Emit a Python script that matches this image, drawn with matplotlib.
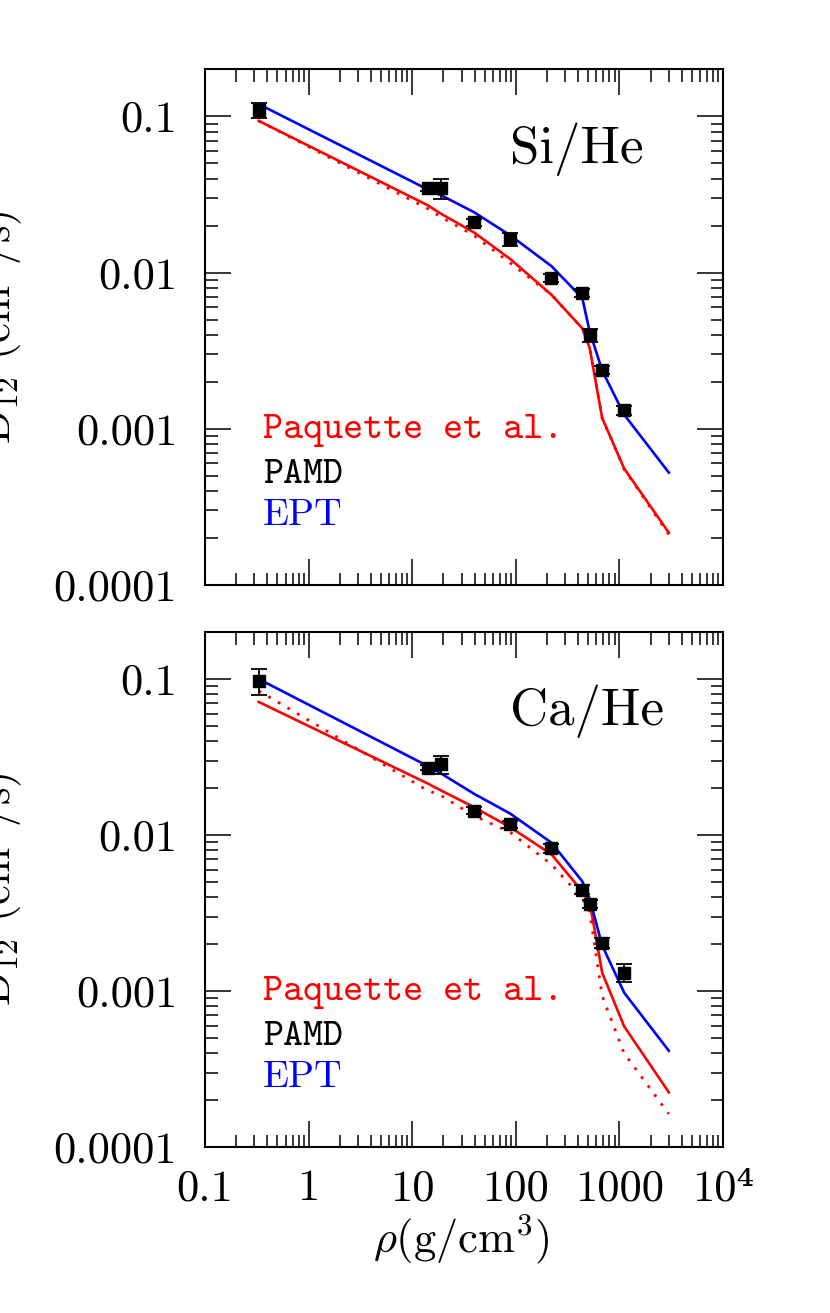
import matplotlib
matplotlib.use('Agg')
import matplotlib.pyplot as plt
from matplotlib.ticker import FixedLocator, FixedFormatter, LogLocator, NullFormatter

plt.rcParams['font.family'] = ['cmr10', 'DejaVu Serif']
plt.rcParams['mathtext.fontset'] = 'cm'

# densities (g/cm^3)
rho = [0.33, 14.1, 19.0, 39.4, 88.7, 221, 438, 516, 682, 1112]
rho_model = [0.33, 14.1, 19.0, 39.4, 88.7, 221, 438, 516, 682, 1112, 3000]

# Si/He
si_pamd = [0.110, 0.0346, 0.0346, 0.0210, 0.0164, 0.00926, 0.0074, 0.00397, 0.00239, 0.00131]
si_err = [0.012, 0.0012, 0.005, 0.0012, 0.0016, 0.0005, 0.0004, 0.0004, 0.00015, 0.00008]
si_ept = [0.120, 0.0341, 0.0313, 0.0244, 0.0173, 0.0110, 0.00687, 0.0042, 0.00236, 0.00123, 0.000524]
si_paq = [0.0937, 0.0270, 0.0238, 0.0181, 0.0122, 0.00721, 0.0044, 0.0033, 0.00117, 0.000556, 0.000216]
si_paq_dot = [0.0937, 0.0257, 0.0227, 0.0173, 0.0115, 0.00721, 0.0044, 0.0033, 0.00117, 0.000550, 0.000210]

# Ca/He
ca_pamd = [0.0975, 0.0270, 0.0285, 0.01436, 0.01175, 0.00822, 0.00446, 0.00361, 0.00203, 0.00131]
ca_err = [0.019, 0.001, 0.0037, 0.0007, 0.0006, 0.0005, 0.0003, 0.0002, 0.00015, 0.00017]
ca_ept = [0.100, 0.0277, 0.0248, 0.0184, 0.0137, 0.00893, 0.00505, 0.0039, 0.00196, 0.000975, 0.000414]
ca_paq = [0.0713, 0.0214, 0.0193, 0.0151, 0.0112, 0.00752, 0.00435, 0.00374, 0.00131, 0.000593, 0.000224]
ca_paq_dot = [0.0840, 0.0193, 0.0179, 0.0133, 0.0104, 0.00647, 0.00394, 0.00322, 0.00093, 0.000398, 0.000163]

xticks = [0.1, 1, 10, 100, 1000, 1e4]
xticklabels = ['0.1', '1', '10', '100', '1000', '10⁴']
yticks = [1e-4, 1e-3, 1e-2, 1e-1]
yticklabels = ['0.0001', '0.001', '0.01', '0.1']

fig = plt.figure(figsize=(8.3, 13.13), dpi=100)
ax1 = fig.add_axes([0.2470, 0.5545, 0.6241, 0.3926])
ax2 = fig.add_axes([0.2470, 0.1264, 0.6241, 0.3922])

panels = [(ax1, si_pamd, si_err, si_ept, si_paq, si_paq_dot, 'Si/He'),
          (ax2, ca_pamd, ca_err, ca_ept, ca_paq, ca_paq_dot, 'Ca/He')]

for ax, pamd, err, ept, paq, paqdot, name in panels:
    ax.set_xscale('log')
    ax.set_yscale('log')
    ax.plot(rho_model, paqdot, color='#ff0000', lw=2.0, ls=(0, (1, 3)))
    ax.plot(rho_model, paq, color='#ff0000', lw=1.9)
    ax.plot(rho_model, ept, color='#0000ff', lw=1.9)
    ax.errorbar(rho, pamd, yerr=err, fmt='s', color='black', ms=8.5,
                capsize=6, elinewidth=1.3, capthick=1.3, zorder=5)
    ax.set_xlim(0.1, 1e4)
    ax.set_ylim(1e-4, 0.2)

    ax.xaxis.set_major_locator(FixedLocator(xticks))
    ax.yaxis.set_major_locator(FixedLocator(yticks))
    ax.yaxis.set_major_formatter(FixedFormatter(yticklabels))
    ax.xaxis.set_minor_locator(LogLocator(base=10, subs=range(2, 10), numticks=20))
    ax.yaxis.set_minor_locator(LogLocator(base=10, subs=range(2, 10), numticks=20))
    ax.xaxis.set_minor_formatter(NullFormatter())
    ax.yaxis.set_minor_formatter(NullFormatter())
    ax.tick_params(which='both', direction='in', top=True, right=True)
    ax.tick_params(which='major', length=19, width=1.1, labelsize=32, pad=20)
    ax.tick_params(which='minor', length=9, width=1.1)
    for s in ax.spines.values():
        s.set_linewidth(1.5)

    ax.text(0.589, 0.819, name, transform=ax.transAxes, fontsize=38, va='baseline')
    ax.text(0.112, 0.285, 'Paquette et al.', transform=ax.transAxes, fontsize=27.5,
            family='cmtt10', color='#ff0000', va='baseline')
    ax.text(0.112, 0.198, 'PAMD', transform=ax.transAxes, fontsize=27.5,
            family='cmtt10', color='black', va='baseline')
    ax.text(0.112, 0.116, 'EPT', transform=ax.transAxes, fontsize=27.5,
            color='#0000ff', va='baseline')

    ax.set_ylabel(r'D$_{12}$ (cm$^2$/s)', fontsize=32)
    ax.yaxis.set_label_coords(-0.349, 0.5)

ax1.xaxis.set_major_formatter(NullFormatter())
ax2.xaxis.set_major_formatter(FixedFormatter(xticklabels))
ax2.tick_params(axis='x', which='major', pad=16)

fig.text(461 / 830, (1313 - 1252) / 1313, r'$\rho$(g/cm$^3$)', fontsize=32,
         ha='center', va='baseline')

fig.savefig('out.png', dpi=100)
